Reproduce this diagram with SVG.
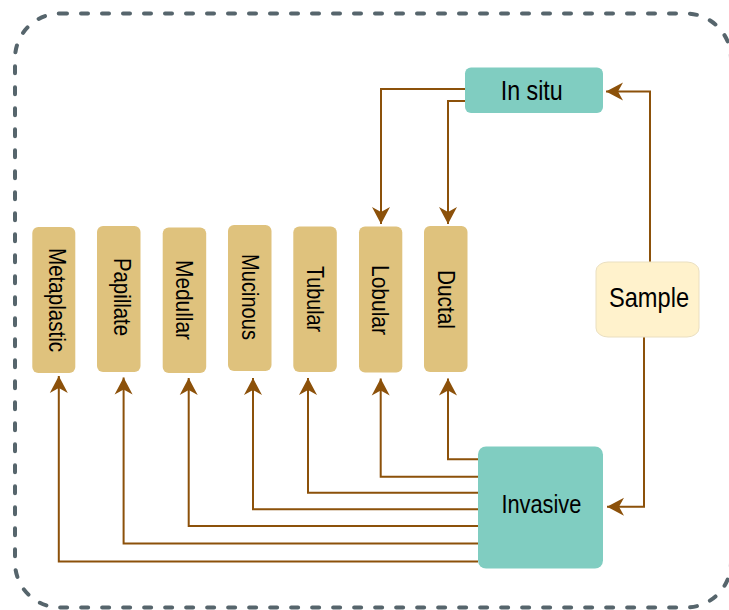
<svg xmlns="http://www.w3.org/2000/svg" width="729" height="610" viewBox="0 0 729 610">
<defs>
<marker id="arr" viewBox="-18 -10 20 20" refX="0" refY="0" markerWidth="20" markerHeight="20" markerUnits="userSpaceOnUse" orient="auto">
<path d="M0,0 L-17,-9 L-12,0 L-17,9 Z" fill="#8c510a"/>
</marker>
</defs>
<style>
.frame{fill:none;stroke:#56656c;stroke-width:4;stroke-dasharray:7 14;stroke-linecap:round}
.sub{fill:#dfc27d}
.teal{fill:#80cdc1}
.samp{fill:#fff2cc;stroke:#eadfc0;stroke-width:1}
.lbl{font-family:"Liberation Sans",Arial,sans-serif;fill:#000;text-anchor:middle}
.v{font-size:24px}
.conn path{fill:none;stroke:#8c510a;stroke-width:2;marker-end:url(#arr)}
</style>
<rect class="frame" x="15" y="13.5" width="716" height="594" rx="45" ry="45"/>
<g id="connectors" class="conn">
<path d="M465,89 H381 V224"/>
<path d="M465,101 H448 V224"/>
<path d="M650,262 V91.5 H606"/>
<path d="M644,337 V506.7 H607"/>
<path d="M478,459.3 H448 V378.5"/>
<path d="M478,476.7 H380.7 V378.5"/>
<path d="M478,492.7 H308 V378"/>
<path d="M478,509.2 H253 V378"/>
<path d="M478,526 H188.7 V378"/>
<path d="M478,543.5 H123.6 V377.5"/>
<path d="M478,561.5 H58.8 V376"/>
</g>
<g id="in-situ">
<rect class="teal" x="465" y="67.5" width="138" height="45.5" rx="6"/>
<text class="lbl" x="531.7" y="100" font-size="28" textLength="62" lengthAdjust="spacingAndGlyphs">In situ</text>
</g>
<g id="sample">
<rect class="samp" x="596" y="262" width="103" height="75" rx="12" ry="9"/>
<text class="lbl" x="649" y="306.5" font-size="28" textLength="80" lengthAdjust="spacingAndGlyphs">Sample</text>
</g>
<g id="invasive">
<rect class="teal" x="478" y="446.5" width="125" height="122" rx="8"/>
<text class="lbl" x="541.4" y="512.7" font-size="25" textLength="80" lengthAdjust="spacingAndGlyphs">Invasive</text>
</g>
<g id="metaplastic">
<rect class="sub" x="32.3" y="227" width="43" height="146" rx="6"/>
<text class="lbl v" transform="translate(48.5,300) rotate(90)" textLength="104" lengthAdjust="spacingAndGlyphs">Metaplastic</text>
</g>
<g id="papillate">
<rect class="sub" x="97" y="226" width="43.5" height="146" rx="6"/>
<text class="lbl v" transform="translate(113.5,297) rotate(90)" textLength="78" lengthAdjust="spacingAndGlyphs">Papillate</text>
</g>
<g id="medullar">
<rect class="sub" x="162.7" y="227.5" width="43.5" height="145.5" rx="6"/>
<text class="lbl v" transform="translate(176,300) rotate(90)" textLength="80" lengthAdjust="spacingAndGlyphs">Medullar</text>
</g>
<g id="mucinous">
<rect class="sub" x="228" y="225" width="43.5" height="146" rx="6"/>
<text class="lbl v" transform="translate(241.7,297) rotate(90)" textLength="86" lengthAdjust="spacingAndGlyphs">Mucinous</text>
</g>
<g id="tubular">
<rect class="sub" x="293.3" y="226.5" width="43.5" height="145.5" rx="6"/>
<text class="lbl v" transform="translate(306.7,299) rotate(90)" textLength="66" lengthAdjust="spacingAndGlyphs">Tubular</text>
</g>
<g id="lobular">
<rect class="sub" x="359" y="226.5" width="43.3" height="146" rx="6"/>
<text class="lbl v" transform="translate(372,300) rotate(90)" textLength="70" lengthAdjust="spacingAndGlyphs">Lobular</text>
</g>
<g id="ductal">
<rect class="sub" x="424" y="226" width="43.5" height="146" rx="6"/>
<text class="lbl v" transform="translate(437.5,299.5) rotate(90)" textLength="59" lengthAdjust="spacingAndGlyphs">Ductal</text>
</g>
</svg>
